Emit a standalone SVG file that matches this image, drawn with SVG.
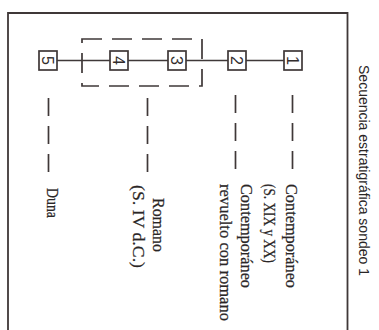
<svg xmlns="http://www.w3.org/2000/svg" width="379" height="330" viewBox="0 0 379 330">
<style>
.box{fill:#fff;stroke:#3f3838;stroke-width:1.7}
.num{font-family:"Liberation Sans",Arial,sans-serif;font-size:16px;fill:#332d2d;text-anchor:middle}
.lbl{font-family:"Liberation Serif","Times New Roman",serif;font-size:16.5px;fill:#2a2626;stroke:#2a2626;stroke-width:0.25}
.ttl{font-family:"Liberation Sans",Arial,sans-serif;font-size:14.5px;fill:#2a2626}
.ln{stroke:#3f3838;stroke-width:1.5;fill:none}
.dl{stroke:#3f3838;stroke-width:1.7;fill:none;stroke-dasharray:18 10}
</style>
<rect width="379" height="330" fill="#fff"/>
<path d="M8,330 V13 H347.5 V330" fill="none" stroke="#3f3838" stroke-width="1.8"/>
<text class="ttl" transform="translate(359,65) rotate(90)" textLength="211" lengthAdjust="spacingAndGlyphs">Secuencia estratigráfica sondeo 1</text>
<rect x="82" y="39" width="120" height="47" fill="none" stroke="#3f3838" stroke-width="1.7" stroke-dasharray="20 10"/>
<g id="connectors">
<line class="ln" x1="57" y1="60.5" x2="284" y2="60.5"/>
<line class="dl" x1="48.5" y1="98" x2="48.5" y2="178"/>
<line class="dl" x1="147.5" y1="98" x2="147.5" y2="180"/>
<line class="dl" x1="235.5" y1="95" x2="235.5" y2="175"/>
<line class="dl" x1="292.5" y1="95" x2="292.5" y2="175"/>
</g>
<g id="n5"><rect class="box" x="39" y="51" width="18" height="19"/><text class="num" transform="translate(48,60.5) rotate(90)" y="5.7">5</text></g>
<g id="n4"><rect class="box" x="110" y="51" width="18" height="19"/><text class="num" transform="translate(119,60.5) rotate(90)" y="5.7">4</text></g>
<g id="n3"><rect class="box" x="168" y="51" width="18" height="19"/><text class="num" transform="translate(177,60.5) rotate(90)" y="5.7">3</text></g>
<g id="n2"><rect class="box" x="228" y="51" width="18" height="19"/><text class="num" transform="translate(237,60.5) rotate(90)" y="5.7">2</text></g>
<g id="n1"><rect class="box" x="284" y="51" width="18" height="19"/><text class="num" transform="translate(293,60.5) rotate(90)" y="5.7">1</text></g>
<g id="labels">
<text class="lbl" transform="translate(286,184) rotate(90)" textLength="104" lengthAdjust="spacingAndGlyphs">Contemporáneo</text>
<text class="lbl" transform="translate(264,184) rotate(90)" textLength="79" lengthAdjust="spacingAndGlyphs">(S. XIX y XX)</text>
<text class="lbl" transform="translate(241,184) rotate(90)" textLength="104" lengthAdjust="spacingAndGlyphs">Contemporáneo</text>
<text class="lbl" transform="translate(220,184) rotate(90)" textLength="137" lengthAdjust="spacingAndGlyphs">revuelto con romano</text>
<text class="lbl" transform="translate(153,198) rotate(90)" textLength="54" lengthAdjust="spacingAndGlyphs">Romano</text>
<text class="lbl" transform="translate(133,185) rotate(90)" textLength="83" lengthAdjust="spacingAndGlyphs">(S. IV d.C.)</text>
<text class="lbl" transform="translate(47,188) rotate(90)" textLength="30" lengthAdjust="spacingAndGlyphs">Duna</text>
</g>
</svg>
